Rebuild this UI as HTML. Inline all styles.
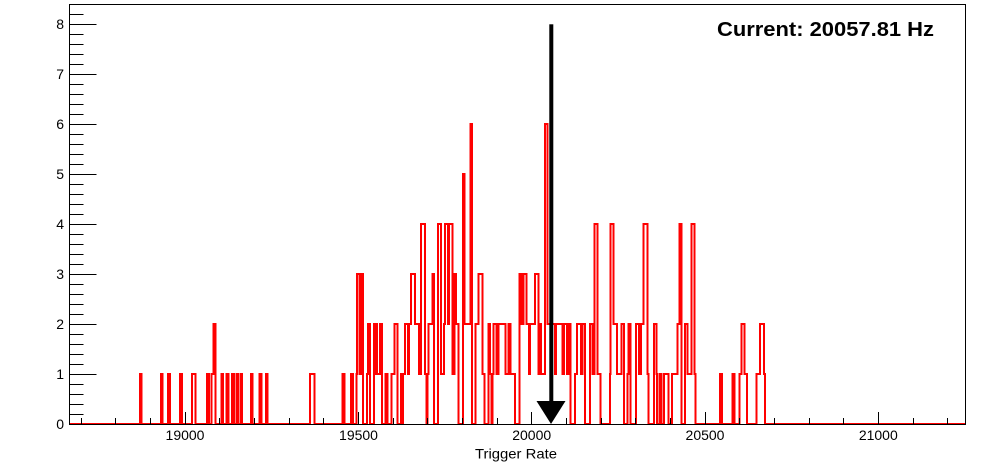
<!DOCTYPE html>
<html>
<head>
<meta charset="utf-8">
<style>
html,body{margin:0;padding:0;background:#fff;}
svg{display:block;}
text{font-family:"Liberation Sans",Arial,sans-serif;fill:#000;}
</style>
</head>
<body>
<svg width="996" height="472" viewBox="0 0 996 472" xmlns="http://www.w3.org/2000/svg">
<rect x="0" y="0" width="996" height="472" fill="#fff"/>

<!-- histogram -->
<path fill="none" stroke="#ff0000" stroke-width="2" stroke-linejoin="miter" shape-rendering="crispEdges" d="M69.5,424 H140 V374 H141.7 V424 H161 V374 H162.7 V424 H168.2 V374 H169.9 V424 H180.2 V374 H181.9 V424 H192 V374 H195.7 V424 H207.2 V374 H208.9 V424 H211.5 V374 H213.7 V324 H215.7 V424 H221.5 V374 H223.2 V424 H226.7 V374 H228.4 V424 H232 V374 H234 V424 H236.4 V374 H238.1 V424 H240.3 V374 H242 V424 H251 V374 H252.7 V424 H259.7 V374 H261.4 V424 H266 V374 H267.7 V424 H310 V374 H314.7 V424 H342.7 V374 H344.4 V424 H351 V374 H353 V424 H356.3 V374 H357 V274 H359.5 V374 H361 V274 H363 V424 H367 V374 H368 V324 H370 V424 H374 V324 H375 V374 H375.8 V324 H377 V374 H380 V324 H382 V424 H385.3 V374 H387.3 V424 H391.3 V374 H394.3 V324 H397.3 V424 H401 V374 H402 V424 H403 V374 H405 V324 H408 V374 H409 V324 H411 V274 H415 V324 H419 V374 H421 V224 H425 V374 H426.5 V424 H427.5 V374 H428.3 V324 H432.3 V274 H434 V424 H438 V224 H441 V374 H444 V324 H445 V224 H448 V324 H449 V224 H452.7 V374 H454.5 V274 H456 V324 H458.3 V424 H463 V174 H464.7 V324 H470.3 V124 H472 V424 H475.7 V324 H478.7 V274 H482.7 V374 H484.3 V424 H488.3 V324 H490 V374 H491.5 V424 H492.5 V374 H493.3 V324 H496.7 V374 H498.7 V324 H505.3 V374 H508.7 V324 H510.7 V374 H515 V424 H519.7 V274 H521.7 V324 H523.7 V274 H526.7 V324 H529 V374 H530 V324 H535 V274 H538.3 V374 H540 V324 H541 V374 H545 V124 H547.7 V324 H555 V374 H556 V324 H562.3 V374 H564 V324 H567 V374 H568.5 V324 H570.7 V424 H575 V374 H577 V324 H581 V374 H582.3 V324 H585 V424 H590 V324 H592.3 V374 H594.3 V224 H597.7 V374 H600.7 V424 H609.8 V374 H610.3 V224 H613.7 V324 H617 V374 H621.7 V324 H624 V424 H627.3 V374 H628.3 V324 H630.7 V424 H636 V324 H639 V374 H641 V324 H643.3 V224 H647.7 V374 H648.7 V424 H654 V324 H656.3 V374 H657 V424 H659.7 V374 H661.4 V424 H664 V374 H668.5 V424 H672 V374 H677.3 V324 H679.3 V224 H681.7 V424 H685 V324 H687.3 V374 H691.3 V224 H694.7 V374 H695.7 V424 H720.2 V374 H721.9 V424 H732.3 V374 H734.3 V424 H739.7 V374 H741.3 V324 H744.7 V374 H747 V424 H756.3 V374 H760 V324 H764 V374 H765 V424 H965.5"/>

<!-- frame -->
<g stroke="#000" stroke-width="1" fill="none" shape-rendering="crispEdges">
<path d="M69.5,4.5 H965.5 V424.5 H69.5 Z"/>
<path d="M69.5,424.5 H96.5 M69.5,374.5 H96.5 M69.5,324.5 H96.5 M69.5,274.5 H96.5 M69.5,224.5 H96.5 M69.5,174.5 H96.5 M69.5,124.5 H96.5 M69.5,74.5 H96.5 M69.5,24.5 H96.5"/>
<path d="M69.5,414.5 H83.5 M69.5,404.5 H83.5 M69.5,394.5 H83.5 M69.5,384.5 H83.5 M69.5,364.5 H83.5 M69.5,354.5 H83.5 M69.5,344.5 H83.5 M69.5,334.5 H83.5 M69.5,314.5 H83.5 M69.5,304.5 H83.5 M69.5,294.5 H83.5 M69.5,284.5 H83.5 M69.5,264.5 H83.5 M69.5,254.5 H83.5 M69.5,244.5 H83.5 M69.5,234.5 H83.5 M69.5,214.5 H83.5 M69.5,204.5 H83.5 M69.5,194.5 H83.5 M69.5,184.5 H83.5 M69.5,164.5 H83.5 M69.5,154.5 H83.5 M69.5,144.5 H83.5 M69.5,134.5 H83.5 M69.5,114.5 H83.5 M69.5,104.5 H83.5 M69.5,94.5 H83.5 M69.5,84.5 H83.5 M69.5,64.5 H83.5 M69.5,54.5 H83.5 M69.5,44.5 H83.5 M69.5,34.5 H83.5 M69.5,14.5 H83.5"/>
<path d="M185.5,424.5 V412 M358.5,424.5 V412 M531.5,424.5 V412 M705.5,424.5 V412 M878.5,424.5 V412"/>
<path d="M81.5,424.5 V418 M115.5,424.5 V418 M150.5,424.5 V418 M219.5,424.5 V418 M254.5,424.5 V418 M289.5,424.5 V418 M323.5,424.5 V418 M393.5,424.5 V418 M427.5,424.5 V418 M462.5,424.5 V418 M497.5,424.5 V418 M566.5,424.5 V418 M601.5,424.5 V418 M635.5,424.5 V418 M670.5,424.5 V418 M739.5,424.5 V418 M774.5,424.5 V418 M809.5,424.5 V418 M843.5,424.5 V418 M913.5,424.5 V418 M947.5,424.5 V418"/>
</g>

<!-- y labels -->
<g font-size="14" text-anchor="end">
<text x="64" y="429">0</text>
<text x="64" y="379">1</text>
<text x="64" y="329">2</text>
<text x="64" y="279">3</text>
<text x="64" y="229">4</text>
<text x="64" y="179">5</text>
<text x="64" y="129">6</text>
<text x="64" y="79">7</text>
<text x="64" y="29">8</text>
</g>

<!-- x labels -->
<g font-size="14" text-anchor="middle">
<text x="185" y="440">19000</text>
<text x="358.5" y="440">19500</text>
<text x="531.7" y="440">20000</text>
<text x="705" y="440">20500</text>
<text x="878.3" y="440">21000</text>
</g>
<text x="557" y="458.5" font-size="14" text-anchor="end" textLength="82" lengthAdjust="spacingAndGlyphs">Trigger Rate</text>

<!-- arrow -->
<rect x="549.3" y="24.3" width="4" height="378" fill="#000"/>
<polygon points="536.5,401 565.5,401 551,424" fill="#000"/>

<!-- current label -->
<text x="717" y="36" font-size="20" font-weight="bold" textLength="217" lengthAdjust="spacingAndGlyphs">Current: 20057.81 Hz</text>
</svg>
</body>
</html>
